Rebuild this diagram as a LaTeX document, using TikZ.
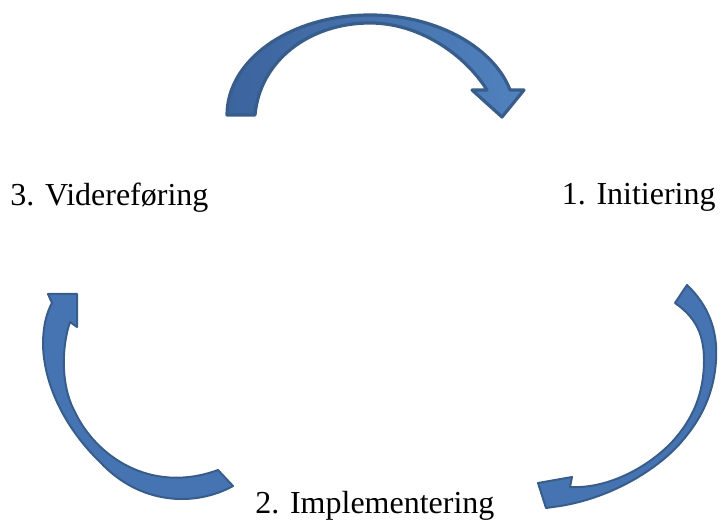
\documentclass[tikz,border=0pt]{standalone}
\usepackage{fontspec}
\setmainfont{Liberation Serif}

\definecolor{arrowBlue}{RGB}{70,116,178}
\definecolor{arrowDark}{RGB}{60,100,158}
\definecolor{arrowLight}{RGB}{80,130,190}
\definecolor{arrowEdge}{RGB}{56,93,138}

\tikzstyle{stage}=[inner sep=0, font=\fontsize{16}{19}\selectfont]
\tikzstyle{blockArrow}=[draw=arrowEdge, line width=1pt, line join=round]
\tikzstyle{topArrowStyle}=[blockArrow, line width=1.6pt, left color=arrowDark, right color=arrowLight]
\tikzstyle{sideArrowStyle}=[blockArrow, fill=arrowBlue]

\begin{document}
\begin{tikzpicture}[x=0.5pt, y=-0.5pt]
	\useasboundingbox (0,0) rectangle (721,522);

	% Faser
	\node(vidf) at (10,206) [stage, anchor=base west] {3. Videreføring};
	\node(init) at (716,205) [stage, anchor=base east] {1. Initiering};
	\node(impl) at (255,513) [stage, anchor=base west] {2. Implementering};

	% Pil oppe
	\draw[topArrowStyle] (227,115) .. controls (227,60) and (290,15) .. (370,15)
		.. controls (440,15) and (495,50) .. (510,90) -- (524,90) -- (502,117) -- (472,90) -- (487,90)
		.. controls (465,55) and (420,23) .. (370,23)
		.. controls (310,23) and (260,60) .. (255,115) -- cycle;

	% Pil til hoyre
	\draw[sideArrowStyle] (687,285) .. controls (708,305) and (718,330) .. (716,360)
		.. controls (714,395) and (700,420) .. (683,440)
		.. controls (660,468) and (610,500) .. (553,507)
		-- (546,508) -- (538,483) -- (572,477) -- (570,487)
		.. controls (605,489) and (645,470) .. (672,442)
		.. controls (692,420) and (704,395) .. (704,360)
		.. controls (704,330) and (692,315) .. (675,303) -- cycle;

	% Pil til venstre
	\draw[sideArrowStyle] (218,470) -- (233,486) .. controls (195,507) and (140,505) .. (100,462)
		.. controls (65,428) and (44,385) .. (43,345)
		.. controls (43,325) and (47,312) .. (52,303)
		-- (48,294) -- (77,294) -- (77,327) -- (70,322)
		.. controls (62,345) and (60,385) .. (75,412)
		.. controls (95,455) and (150,495) .. (218,470) -- cycle;

\end{tikzpicture}
\end{document}
